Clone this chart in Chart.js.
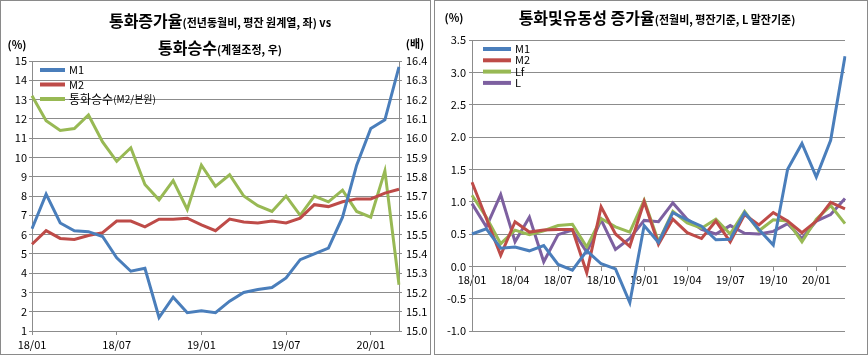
<!DOCTYPE html>
<html><head><meta charset="utf-8">
<script src="https://cdn.jsdelivr.net/npm/chart.js@4"></script>
<style>
body{margin:0;background:#fff;width:868px;height:355px;overflow:hidden;position:relative}
.box{position:absolute;top:0;height:355px;box-sizing:border-box;border:1px solid #8a8a8a}
#b1{left:0;width:431px}
#b2{left:434px;width:434px}
canvas{position:absolute;top:0}
</style></head>
<body>
<div class="box" id="b1"></div><div class="box" id="b2"></div>
<canvas id="c1" width="431" height="355" style="left:0"></canvas>
<canvas id="c2" width="434" height="355" style="left:434px"></canvas>
<script>
const months = ['18/01','18/02','18/03','18/04','18/05','18/06','18/07','18/08','18/09','18/10','18/11','18/12',
  '19/01','19/02','19/03','19/04','19/05','19/06','19/07','19/08','19/09','19/10','19/11','19/12','20/01','20/02','20/03'];

// Left chart: YoY growth (%) and money multiplier (times)
const yoyM1 = [6.3, 8.1, 6.6, 6.2, 6.15, 5.9, 4.8, 4.1, 4.25, 1.7, 2.75, 1.95, 2.05, 1.95, 2.55, 3.0, 3.15, 3.25, 3.75, 4.7, 5.0, 5.3, 6.9, 9.6, 11.5, 11.95, 14.7];
const yoyM2 = [5.5, 6.2, 5.8, 5.75, 5.95, 6.1, 6.7, 6.7, 6.4, 6.8, 6.8, 6.85, 6.5, 6.2, 6.8, 6.65, 6.6, 6.7, 6.6, 6.85, 7.55, 7.45, 7.7, 7.85, 7.85, 8.15, 8.35];
const multiplier = [16.22, 16.09, 16.04, 16.05, 16.12, 15.98, 15.88, 15.95, 15.76, 15.68, 15.78, 15.63, 15.86, 15.75, 15.81, 15.70, 15.65, 15.62, 15.70, 15.60, 15.70, 15.67, 15.73, 15.62, 15.59, 15.83, 15.24];

// Right chart: MoM growth (%)
const momM1 = [0.5, 0.58, 0.28, 0.3, 0.24, 0.32, 0.03, -0.06, 0.24, 0.04, -0.04, -0.56, 0.63, 0.37, 0.83, 0.72, 0.62, 0.41, 0.42, 0.83, 0.57, 0.33, 1.5, 1.9, 1.38, 1.95, 3.25];
const momM2 = [1.3, 0.74, 0.17, 0.69, 0.53, 0.56, 0.57, 0.57, -0.1, 0.92, 0.5, 0.31, 1.0, 0.34, 0.73, 0.52, 0.43, 0.7, 0.38, 0.8, 0.64, 0.83, 0.7, 0.52, 0.7, 0.99, 0.89];
const momLf = [1.1, 0.76, 0.35, 0.56, 0.49, 0.55, 0.63, 0.65, 0.3, 0.74, 0.61, 0.53, 1.02, 0.38, 0.85, 0.67, 0.59, 0.73, 0.5, 0.85, 0.55, 0.72, 0.7, 0.38, 0.73, 0.94, 0.66];
const momL  = [0.97, 0.61, 1.11, 0.38, 0.76, 0.07, 0.49, 0.56, 0.22, 0.72, 0.26, 0.43, 0.71, 0.69, 0.98, 0.73, 0.57, 0.5, 0.63, 0.51, 0.5, 0.54, 0.66, 0.43, 0.7, 0.8, 1.05];

const leftTicks = {min: 1, max: 15, step: 1};
const rightTicks = {min: 15.0, max: 16.4, step: 0.1};
const momTicks = {min: -1.0, max: 3.5, step: 0.5};

const BLUE = '#4A7EBB', RED = '#BE4B48', GREEN = '#98B954', PURPLE = '#7D60A0';
const GRID = '#8c8c8c';
const FONT = "'Noto Sans CJK KR', 'Noto Sans', sans-serif";

const overlay = {
  id: 'overlay',
  afterDraw(chart, args, opts) {
    const ctx = chart.ctx;
    ctx.save();
    ctx.fillStyle = '#000';
    ctx.textBaseline = 'alphabetic';
    (opts.titles || []).forEach(line => {
      let total = 0;
      line.parts.forEach(p => { ctx.font = p.font; p.w = ctx.measureText(p.text).width; total += p.w; });
      let x = line.cx - total / 2;
      line.parts.forEach(p => { ctx.font = p.font; ctx.textAlign = 'left'; ctx.fillText(p.text, x, line.y); x += p.w; });
    });
    (opts.texts || []).forEach(t => {
      ctx.font = t.font; ctx.textAlign = t.align || 'center'; ctx.textBaseline = 'middle';
      ctx.fillText(t.text, t.x, t.y);
    });
    const lg = opts.legend;
    if (lg) {
      chart.data.datasets.forEach((ds, i) => {
        const y = lg.y + i * lg.dy;
        ctx.strokeStyle = ds.borderColor; ctx.lineWidth = 4; ctx.lineCap = 'butt';
        ctx.beginPath(); ctx.moveTo(lg.x, y); ctx.lineTo(lg.x + lg.len, y); ctx.stroke();
        ctx.textAlign = 'left'; ctx.textBaseline = 'middle'; ctx.fillStyle = '#000';
        let x = lg.x + lg.len + 4;
        const parts = (lg.parts && lg.parts[i]) || [{text: ds.label, font: lg.font}];
        parts.forEach(p => { ctx.font = p.font; ctx.fillText(p.text, x, y); x += ctx.measureText(p.text).width; });
      });
    }
    ctx.restore();
  }
};

function ds(label, data, color, axis) {
  return {label, data, borderColor: color, backgroundColor: color, borderWidth: 3, pointRadius: 0, tension: 0, yAxisID: axis, fill: false};
}

new Chart(document.getElementById('c1'), {
  type: 'line',
  data: {
    labels: months,
    datasets: [ds('M1', yoyM1, BLUE, 'y'), ds('M2', yoyM2, RED, 'y'), ds('통화승수(M2/본원)', multiplier, GREEN, 'y2')]
  },
  options: {
    responsive: false, animation: false, devicePixelRatio: 1,
    layout: {padding: {top: 61, left: 0, right: 0, bottom: 0}},
    plugins: {
      legend: {display: false}, tooltip: {enabled: false}, title: {display: false},
      overlay: {
        titles: [
          {cx: 220, y: 27, parts: [{text: '통화증가율', font: `bold 16px ${FONT}`}, {text: '(전년동월비, 평잔 원계열, 좌) vs', font: `bold 11px ${FONT}`}]},
          {cx: 220, y: 54, parts: [{text: '통화승수', font: `bold 16px ${FONT}`}, {text: '(계절조정, 우)', font: `bold 11px ${FONT}`}]}
        ],
        texts: [
          {text: '(%)', x: 17, y: 45, font: `bold 11px ${FONT}`},
          {text: '(배)', x: 415, y: 44, font: `bold 11px ${FONT}`}
        ],
        legend: {x: 40, y: 70, dy: 14.5, len: 25, font: `11px ${FONT}`,
          parts: [null, null, [{text: '통화승수', font: `12px ${FONT}`}, {text: '(M2/본원)', font: `10px ${FONT}`}]]}
      }
    },
    scales: {
      x: {
        offset: false,
        afterFit(s) { s.height = 24; },
        grid: {drawOnChartArea: false, color: GRID, tickLength: 4},
        border: {color: GRID},
        ticks: {autoSkip: false, maxRotation: 0, padding: 3, color: '#000', font: {family: FONT, size: 11},
          callback(v, i) { return i % 6 === 0 ? months[i] : null; }}
      },
      y: {
        position: 'left', min: leftTicks.min, max: leftTicks.max,
        afterFit(s) { s.width = 32; },
        grid: {color: GRID, tickLength: 3},
        border: {color: GRID},
        ticks: {stepSize: leftTicks.step, padding: 2, color: '#000', font: {family: FONT, size: 11}}
      },
      y2: {
        position: 'right', min: rightTicks.min, max: rightTicks.max,
        afterFit(s) { s.width = 32; },
        grid: {drawOnChartArea: false, color: GRID, tickLength: 3},
        border: {color: GRID},
        ticks: {stepSize: rightTicks.step, padding: 4, color: '#000', font: {family: FONT, size: 11},
          callback(v) { return Number(v).toFixed(1); }}
      }
    }
  },
  plugins: [overlay]
});

new Chart(document.getElementById('c2'), {
  type: 'line',
  data: {
    labels: months,
    datasets: [ds('M1', momM1, BLUE, 'y'), ds('M2', momM2, RED, 'y'), ds('Lf', momLf, GREEN, 'y'), ds('L', momL, PURPLE, 'y')]
  },
  options: {
    responsive: false, animation: false, devicePixelRatio: 1,
    layout: {padding: {top: 40, left: 0, right: 23, bottom: 24}},
    plugins: {
      legend: {display: false}, tooltip: {enabled: false}, title: {display: false},
      overlay: {
        titles: [
          {cx: 223, y: 24, parts: [{text: '통화및유동성 증가율', font: `bold 16px ${FONT}`}, {text: '(전월비, 평잔기준, L 말잔기준)', font: `bold 11px ${FONT}`}]}
        ],
        texts: [
          {text: '(%)', x: 20, y: 18, font: `bold 11px ${FONT}`}
        ],
        legend: {x: 49, y: 49, dy: 11.3, len: 28, font: `11px ${FONT}`}
      }
    },
    scales: {
      x: {
        position: {y: 0},
        offset: false,
        grid: {drawOnChartArea: false, color: GRID, tickLength: 4},
        border: {color: GRID},
        ticks: {autoSkip: false, maxRotation: 0, padding: 3, color: '#000', font: {family: FONT, size: 11},
          callback(v, i) { return i % 3 === 0 ? months[i] : null; }}
      },
      y: {
        position: 'left', min: momTicks.min, max: momTicks.max,
        afterFit(s) { s.width = 38; },
        grid: {color: GRID, tickLength: 3},
        border: {color: GRID},
        ticks: {stepSize: momTicks.step, padding: 3, color: '#000', font: {family: FONT, size: 11},
          callback(v) { return Number(v).toFixed(1); }}
      }
    }
  },
  plugins: [overlay]
});
</script>
</body></html>
